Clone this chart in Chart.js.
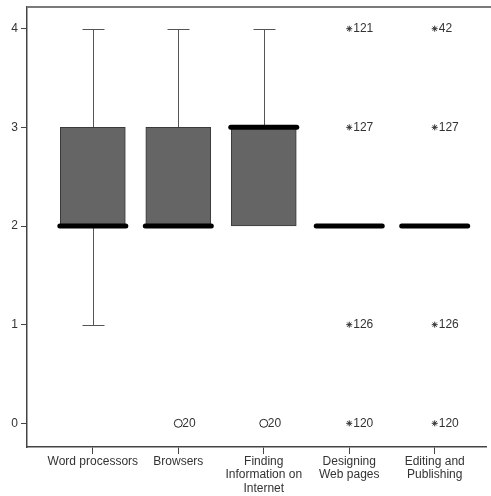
<!DOCTYPE html>
<html>
<head>
<meta charset="utf-8">
<script src="https://cdn.jsdelivr.net/npm/chart.js@4/dist/chart.umd.min.js"></script>
<style>
	html, body { margin: 0; padding: 0; background: #fff; }
	#wrap { width: 491px; height: 496px; }
</style>
</head>
<body>
<div id="wrap"><canvas id="boxChart"></canvas></div>
<script>
// categories and five-number summaries
var categories = [
	["Word processors"],
	["Browsers"],
	["Finding", "Information on", "Internet"],
	["Designing", "Web pages"],
	["Editing and", "Publishing"]
];
var whiskerLow  = [1, 2, 2, 2, 2];
var boxLow      = [2, 2, 2, 2, 2];
var medians     = [2, 2, 3, 2, 2];
var boxHigh     = [3, 3, 3, 2, 2];
var whiskerHigh = [4, 4, 4, 2, 2];

// outliers (circles) and extremes (stars): category position, value, case label
var outlierCat   = [2, 3];
var outlierVal   = [0, 0];
var outlierLabel = ["20", "20"];

var extremeCat   = [4, 4, 4, 4, 5, 5, 5, 5];
var extremeVal   = [4, 3, 1, 0, 4, 3, 1, 0];
var extremeLabel = ["121", "127", "126", "120", "42", "127", "126", "120"];

var yTicks = [0, 1, 2, 3, 4];

var boxData = [];
for (var i = 0; i < categories.length; i++) {
	if (boxHigh[i] > boxLow[i]) {
		boxData.push({x: i + 1, y: [boxLow[i], boxHigh[i]]});
	}
}
var outlierData = [];
for (var i = 0; i < outlierCat.length; i++) {
	outlierData.push({x: outlierCat[i], y: outlierVal[i], label: outlierLabel[i]});
}
var extremeData = [];
for (var i = 0; i < extremeCat.length; i++) {
	extremeData.push({x: extremeCat[i], y: extremeVal[i], label: extremeLabel[i]});
}

var boxPlugin = {
	id: 'boxParts',
	beforeDatasetsDraw: function(chart) {
		var ctx = chart.ctx, xs = chart.scales.x, ys = chart.scales.y;
		var area = chart.chartArea;
		ctx.save();
		// top frame line
		ctx.strokeStyle = '#7a7a7a';
		ctx.lineWidth = 2;
		ctx.beginPath();
		ctx.moveTo(area.left, area.top);
		ctx.lineTo(chart.width, area.top);
		ctx.stroke();
		// whiskers and caps
		ctx.strokeStyle = '#555';
		ctx.lineWidth = 1;
		for (var i = 0; i < categories.length; i++) {
			var cx = Math.round(xs.getPixelForValue(i + 1)) + 0.5;
			var pairs = [[boxHigh[i], whiskerHigh[i]], [boxLow[i], whiskerLow[i]]];
			for (var p = 0; p < pairs.length; p++) {
				if (pairs[p][0] == pairs[p][1]) continue;
				var y0 = ys.getPixelForValue(pairs[p][0]);
				var y1 = Math.round(ys.getPixelForValue(pairs[p][1])) + 0.5;
				ctx.beginPath();
				ctx.moveTo(cx, y0);
				ctx.lineTo(cx, y1);
				ctx.moveTo(cx - 11, y1);
				ctx.lineTo(cx + 11, y1);
				ctx.stroke();
			}
		}
		ctx.restore();
	},
	afterDatasetsDraw: function(chart) {
		var ctx = chart.ctx, xs = chart.scales.x, ys = chart.scales.y;
		ctx.save();
		// medians
		ctx.strokeStyle = '#000';
		ctx.lineWidth = 5;
		ctx.lineCap = 'round';
		for (var i = 0; i < categories.length; i++) {
			var cx = xs.getPixelForValue(i + 1);
			var my = ys.getPixelForValue(medians[i]);
			ctx.beginPath();
			ctx.moveTo(cx - 33, my);
			ctx.lineTo(cx + 33, my);
			ctx.stroke();
		}
		// case labels next to outliers
		ctx.fillStyle = '#333';
		ctx.font = '12px "Liberation Sans", Arial, sans-serif';
		ctx.textBaseline = 'middle';
		ctx.textAlign = 'left';
		[1, 2].forEach(function(idx) {
			var meta = chart.getDatasetMeta(idx);
			var ds = chart.data.datasets[idx];
			meta.data.forEach(function(pt, k) {
				ctx.fillText(ds.data[k].label, pt.x + 4, pt.y);
			});
		});
		ctx.restore();
	}
};

new Chart(document.getElementById('boxChart'), {
	type: 'bar',
	data: {
		datasets: [
			{
				type: 'bar',
				data: boxData,
				backgroundColor: '#656565',
				borderColor: '#3a3a3a',
				borderWidth: 1,
				borderSkipped: false,
				barThickness: 65
			},
			{
				type: 'scatter',
				data: outlierData,
				pointStyle: 'circle',
				radius: 4,
				borderWidth: 1,
				borderColor: '#222',
				backgroundColor: '#fff'
			},
			{
				type: 'scatter',
				data: extremeData,
				pointStyle: 'star',
				radius: 3,
				borderWidth: 1,
				borderColor: '#333',
				backgroundColor: '#333'
			}
		]
	},
	options: {
		responsive: true,
		maintainAspectRatio: false,
		animation: false,
		layout: { padding: { top: 7, right: 0, left: 0, bottom: 0 } },
		plugins: {
			legend: { display: false },
			tooltip: { enabled: false }
		},
		scales: {
			x: {
				type: 'linear',
				offset: false,
				min: 0.23,
				max: 5.6,
				afterBuildTicks: function(scale) {
					scale.ticks = categories.map(function(c, i) { return {value: i + 1}; });
				},
				afterFit: function(scale) {
					scale.height = 49;
					scale.paddingLeft = 0;
					scale.paddingRight = 0;
				},
				ticks: {
					autoSkip: false,
					maxRotation: 0,
					padding: 1,
					color: '#333',
					font: { family: '"Liberation Sans", Arial, sans-serif', size: 12, lineHeight: 1.12 },
					callback: function(v) { return categories[Math.round(v) - 1] || ''; }
				},
				grid: { offset: false, drawOnChartArea: false, tickLength: 7, color: '#444' },
				border: { color: '#444', width: 1.5 }
			},
			y: {
				min: -0.24,
				max: 4.22,
				afterBuildTicks: function(scale) {
					scale.ticks = yTicks.map(function(v) { return {value: v}; });
				},
				afterFit: function(scale) {
					scale.width = 27;
					scale.paddingTop = 0;
					scale.paddingBottom = 0;
				},
				ticks: {
					padding: 3,
					color: '#333',
					font: { family: '"Liberation Sans", Arial, sans-serif', size: 12 }
				},
				grid: { drawOnChartArea: false, tickLength: 6, color: '#444' },
				border: { color: '#444', width: 1.5 }
			}
		}
	},
	plugins: [boxPlugin]
});
</script>
</body>
</html>
